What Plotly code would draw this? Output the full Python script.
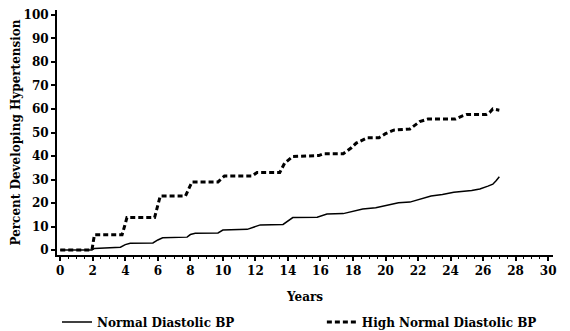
import plotly.graph_objects as go

# Cumulative incidence of hypertension by follow-up year
normal_years = [0, 1.95, 2.1, 3.7, 4.0, 4.3, 5.7, 6.0, 6.3, 7.8, 8.0, 8.3, 9.7, 10.0,
                11.5, 11.9, 12.3, 13.7, 14.0, 14.3, 15.8, 16.4, 17.4, 18.0, 18.6, 19.4,
                19.7, 20.3, 20.8, 21.5, 22.0, 22.8, 23.5, 24.2, 25.3, 25.8, 26.3, 26.6,
                26.8, 27.0]
normal_pct = [0, 0, 0.7, 1.2, 2.3, 2.9, 3.0, 4.3, 5.2, 5.5, 6.6, 7.1, 7.3, 8.5,
              8.8, 9.8, 10.7, 10.9, 12.5, 13.8, 14.0, 15.3, 15.5, 16.5, 17.5, 18.0,
              18.4, 19.5, 20.1, 20.4, 21.5, 23.0, 23.6, 24.6, 25.3, 26.0, 27.2, 28.0,
              29.5, 31.2]

high_years = [0, 1.95, 2.1, 3.8, 3.95, 4.1, 5.8, 5.95, 6.15, 7.7, 7.95, 8.1, 9.7, 9.95,
              10.1, 11.8, 12.1, 13.5, 13.8, 14.3, 15.9, 16.2, 17.4, 17.9, 18.2, 18.9,
              19.6, 20.0, 20.5, 21.5, 21.8, 22.1, 22.6, 24.3, 24.7, 25.0, 26.2, 26.4,
              26.6, 27.0]
high_pct = [0, 0, 6.5, 6.5, 10, 13.8, 13.8, 18, 23, 23, 27, 29, 29, 30.5,
            31.5, 31.5, 33, 33, 37, 39.8, 40.2, 41, 41, 43.5, 45.5, 47.8,
            47.8, 49.5, 51, 51.5, 53, 54.6, 55.7, 55.7, 57, 57.7, 57.7, 58.5,
            60, 59.5]

x_ticks = list(range(0, 31, 2))
y_ticks = list(range(0, 101, 10))

FONT = "DejaVu Serif"

fig = go.Figure()
fig.add_trace(go.Scatter(
    x=normal_years, y=normal_pct, mode="lines", name="Normal Diastolic BP",
    line=dict(color="black", width=1.5), legend="legend"))
fig.add_trace(go.Scatter(
    x=high_years, y=high_pct, mode="lines", name="High Normal Diastolic BP",
    line=dict(color="black", width=3, dash="5px,3px"), legend="legend2"))

axis_font = dict(family=FONT, size=12, color="black", weight="bold")
legend_font = dict(family=FONT, size=12, color="black", weight="bold")

fig.update_layout(
    width=570, height=331,
    margin=dict(l=57, r=17, t=10, b=76, autoexpand=False),
    paper_bgcolor="white", plot_bgcolor="white",
    font=dict(family=FONT, color="black"),
    showlegend=True,
    xaxis=dict(
        range=[-0.2, 30.3], tickvals=x_ticks, ticktext=[str(v) for v in x_ticks],
        showgrid=False, zeroline=False, showline=True, linecolor="black", linewidth=2,
        ticks="outside", ticklen=4, tickwidth=1.5, tickcolor="black",
        minor=dict(dtick=0.5, tick0=0, ticks="outside", ticklen=2, tickwidth=1,
                   tickcolor="black", showgrid=False),
        tickfont=axis_font,
        title=dict(text="Years", font=axis_font, standoff=15),
    ),
    yaxis=dict(
        range=[-2.1, 102.1], tickvals=y_ticks, ticktext=[str(v) for v in y_ticks],
        showgrid=False, zeroline=False, showline=True, linecolor="black", linewidth=2,
        ticks="outside", ticklen=4, tickwidth=1.5, tickcolor="black",
        tickfont=axis_font,
        title=dict(text="Percent Developing Hypertension",
                   font=dict(family=FONT, size=12, color="black", weight="bold"),
                   standoff=0),
    ),
    legend=dict(x=0.0, y=-0.273, xanchor="left", yanchor="middle",
                font=legend_font, bgcolor="rgba(0,0,0,0)"),
    legend2=dict(x=0.534, y=-0.273, xanchor="left", yanchor="middle",
                 font=legend_font, bgcolor="rgba(0,0,0,0)"),
)

fig.write_html("out.html")
